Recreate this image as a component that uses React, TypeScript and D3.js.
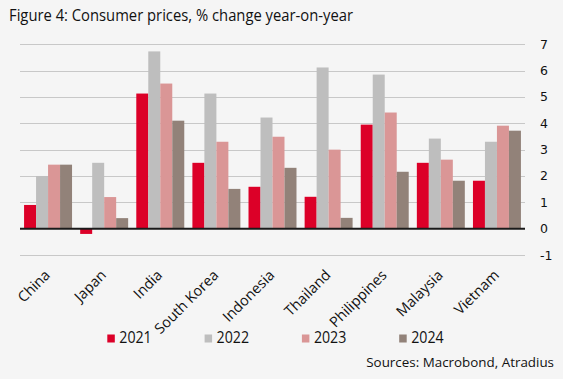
import React from "react";
import * as d3 from "d3";

const categories = ["China", "Japan", "India", "South Korea", "Indonesia", "Thailand", "Philippines", "Malaysia", "Vietnam"];
const seriesNames = ["2021", "2022", "2023", "2024"];
const values2021 = [0.9, -0.2, 5.13, 2.5, 1.59, 1.21, 3.95, 2.5, 1.82];
const values2022 = [2.0, 2.5, 6.73, 5.13, 4.22, 6.12, 5.85, 3.42, 3.3];
const values2023 = [2.43, 1.2, 5.51, 3.3, 3.49, 3.0, 4.41, 2.62, 3.91];
const values2024 = [2.43, 0.4, 4.1, 1.51, 2.31, 0.41, 2.16, 1.82, 3.72];
const yTicks = [-1, 0, 1, 2, 3, 4, 5, 6, 7];
const seriesColors = ["#dc0028", "#bebebe", "#da9696", "#928279"];

const W = 569;
const H = 379;
const condensed = "'Liberation Sans Narrow', 'Open Sans', sans-serif";

export default function App() {
  const series = [values2021, values2022, values2023, values2024];
  const x = d3.scaleBand<string>().domain(categories).range([20, 525]).paddingInner(0.145).paddingOuter(0.0725);
  const xi = d3.scaleBand<string>().domain(seriesNames).range([0, x.bandwidth()]).padding(0);
  const y = d3.scaleLinear().domain([-1, 7]).range([255, 44.3]);

  return (
    <svg width={W} height={H} style={{ position: "absolute", left: 0, top: 0, background: "#ffffff" }}>
      <rect x={0} y={0} width={563} height={H} fill="#f5f5f5" />
      <text x={9} y={21} fontFamily={condensed} fontSize={16} fill="#111" textLength={344} lengthAdjust="spacingAndGlyphs">
        Figure 4: Consumer prices, % change year-on-year
      </text>
      {yTicks.filter((t) => t !== 0).map((t) => (
        <line key={"g" + t} x1={20} x2={525} y1={Math.round(y(t)) + 0.5} y2={Math.round(y(t)) + 0.5} stroke="#c8c8c8" strokeWidth={1} />
      ))}
      {categories.map((c, ci) => (
        <g key={c} transform={`translate(${x(c)},0)`}>
          {series.map((vals, si) => {
            const v = vals[ci];
            const y0 = y(0);
            const yv = y(v);
            return (
              <rect
                key={si}
                x={xi(seriesNames[si])}
                y={Math.min(y0, yv)}
                width={xi.bandwidth()}
                height={Math.abs(yv - y0)}
                fill={seriesColors[si]}
              />
            );
          })}
        </g>
      ))}
      <line x1={20} x2={525} y1={y(0)} y2={y(0)} stroke="#1a1a1a" strokeWidth={2} />
      {yTicks.map((t) => (
        <text key={"t" + t} x={540} y={y(t)} dy="0.36em" fontFamily="'DejaVu Sans', sans-serif" fontSize={12.5} fill="#111">
          {t}
        </text>
      ))}
      {categories.map((c) => {
        const cx = (x(c) as number) + x.bandwidth() / 2 + 3;
        return (
          <text key={"l" + c} transform={`translate(${cx},276) rotate(-45)`} textAnchor="end" fontFamily={condensed} fontSize={14.5} fill="#111">
            {c}
          </text>
        );
      })}
      {seriesNames.map((s, i) => {
        const lx = 107.3 + 97.3 * i;
        return (
          <g key={"lg" + s}>
            <rect x={lx} y={334.5} width={7.5} height={8} fill={seriesColors[i]} />
            <text x={lx + 12} y={343.3} fontFamily={condensed} fontSize={16} fill="#111" textLength={32.4} lengthAdjust="spacingAndGlyphs">
              {s}
            </text>
          </g>
        );
      })}
      <text x={554} y={366.7} textAnchor="end" fontFamily={condensed} fontSize={13.4} fill="#111">
        Sources: Macrobond, Atradius
      </text>
    </svg>
  );
}
